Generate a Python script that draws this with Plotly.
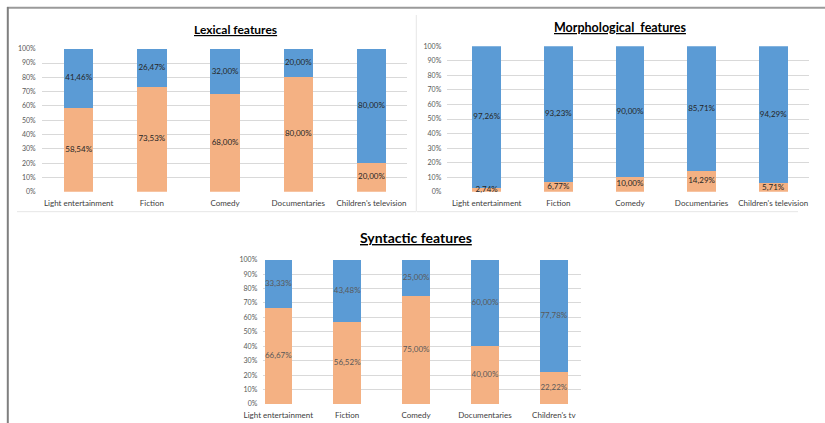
import plotly.graph_objects as go

# Category labels for each panel
categories_top = ["Light entertainment", "Fiction", "Comedy", "Documentaries", "Children's television"]
categories_syn = ["Light entertainment", "Fiction", "Comedy", "Documentaries", "Children's tv"]

# Shares (%) per panel: lower (orange) and upper (blue) segments
lexical_orange = [58.54, 73.53, 68.00, 80.00, 20.00]
lexical_blue = [41.46, 26.47, 32.00, 20.00, 80.00]

morph_orange = [2.74, 6.77, 10.00, 14.29, 5.71]
morph_blue = [97.26, 93.23, 90.00, 85.71, 94.29]

syn_orange = [66.67, 56.52, 75.00, 40.00, 22.22]
syn_blue = [33.33, 43.48, 25.00, 60.00, 77.78]

y_ticks = list(range(0, 101, 10))
y_tick_text = [f"{v}%" for v in y_ticks]

ORANGE = "#F4B183"
BLUE = "#5B9BD5"
FONT = "Lato"
W, H = 825, 423


def fmt(v):
    return f"{v:.2f}%".replace(".", ",")


def px_x(a, b):
    return [a / W, b / W]


def px_y(top, bottom):
    return [1 - bottom / H, 1 - top / H]


panels = [
    dict(cats=categories_top, lo=lexical_orange, hi=lexical_blue, ax="", xr=[-0.505, 4.489],
         xd=px_x(41.7, 407.3), yd=px_y(48.7, 191.7), label_color="#262626"),
    dict(cats=categories_top, lo=morph_orange, hi=morph_blue, ax="2", xr=[-0.55, 4.50],
         xd=px_x(447.3, 809), yd=px_y(46.3, 191.7), label_color="#262626"),
    dict(cats=categories_syn, lo=syn_orange, hi=syn_blue, ax="3", xr=[-0.2175, 4.394],
         xd=px_x(263.3, 581), yd=px_y(259.7, 404), label_color="#595959"),
]

fig = go.Figure()
layout = {}
for p in panels:
    xa = "x" + p["ax"]
    ya = "y" + p["ax"]
    for vals, color in ((p["lo"], ORANGE), (p["hi"], BLUE)):
        fig.add_trace(go.Bar(
            x=p["cats"], y=vals, xaxis=xa, yaxis=ya,
            marker=dict(color=color, line=dict(width=0)),
            width=0.4, showlegend=False, hoverinfo="skip",
        ))
    # value labels centred in each stacked segment
    mids_lo = [v / 2 for v in p["lo"]]
    mids_hi = [lo + hi / 2 for lo, hi in zip(p["lo"], p["hi"])]
    fig.add_trace(go.Scatter(
        x=p["cats"] + p["cats"], y=mids_lo + mids_hi, xaxis=xa, yaxis=ya,
        mode="text", text=[fmt(v) for v in p["lo"] + p["hi"]],
        textposition="middle center",
        textfont=dict(family=FONT, size=8, color=p["label_color"]),
        showlegend=False, hoverinfo="skip", cliponaxis=False,
    ))
    layout["xaxis" + p["ax"]] = dict(
        domain=p["xd"], anchor=ya, type="category", range=p["xr"],
        showgrid=False, zeroline=False, showline=False, ticks="",
        tickfont=dict(family=FONT, size=8, color="#404040"),
        ticklabelstandoff=5, fixedrange=True, automargin=False,
    )
    layout["yaxis" + p["ax"]] = dict(
        domain=p["yd"], anchor=xa, range=[0, 100], tickvals=y_ticks, ticktext=y_tick_text,
        showgrid=True, gridcolor="#D9D9D9", gridwidth=1,
        zeroline=False, showline=False, ticks="",
        tickfont=dict(family=FONT, size=7, color="#595959"),
        ticklabelstandoff=5, fixedrange=True, automargin=False,
    )

fig.update_layout(
    template="none",
    width=W, height=H, margin=dict(l=0, r=0, t=0, b=0, autoexpand=False),
    paper_bgcolor="white", plot_bgcolor="white",
    barmode="stack", **layout,
)

titles = [
    ("<u>Lexical features</u>", 235.7, 29.3, 12),
    ("<u>Morphological\u00a0 features</u>", 620, 27.7, 12.5),
    ("<u>Syntactic features</u>", 416.3, 237.7, 14),
]
for text, cx, cy, size in titles:
    fig.add_annotation(
        text="<b>" + text + "</b>", x=cx / W, y=1 - cy / H, xref="paper", yref="paper",
        xanchor="center", yanchor="middle", showarrow=False,
        font=dict(family=FONT, size=size, color="#000000"),
    )

# Page frame and panel separators
def line(x0, y0, x1, y1, color, width):
    fig.add_shape(type="line", xref="paper", yref="paper",
                  x0=x0 / W, y0=1 - y0 / H, x1=x1 / W, y1=1 - y1 / H,
                  line=dict(color=color, width=width))

line(7, 7.8, 825, 7.8, "#9A9A9A", 2)
line(7.8, 7, 7.8, 423, "#7F7F7F", 2)
line(17, 211.7, 416, 211.7, "#E6E6E6", 1)
line(417, 211.7, 798, 211.7, "#E6E6E6", 1)
line(416.3, 15, 416.3, 211.7, "#E6E6E6", 1)

fig.write_html("out.html")
